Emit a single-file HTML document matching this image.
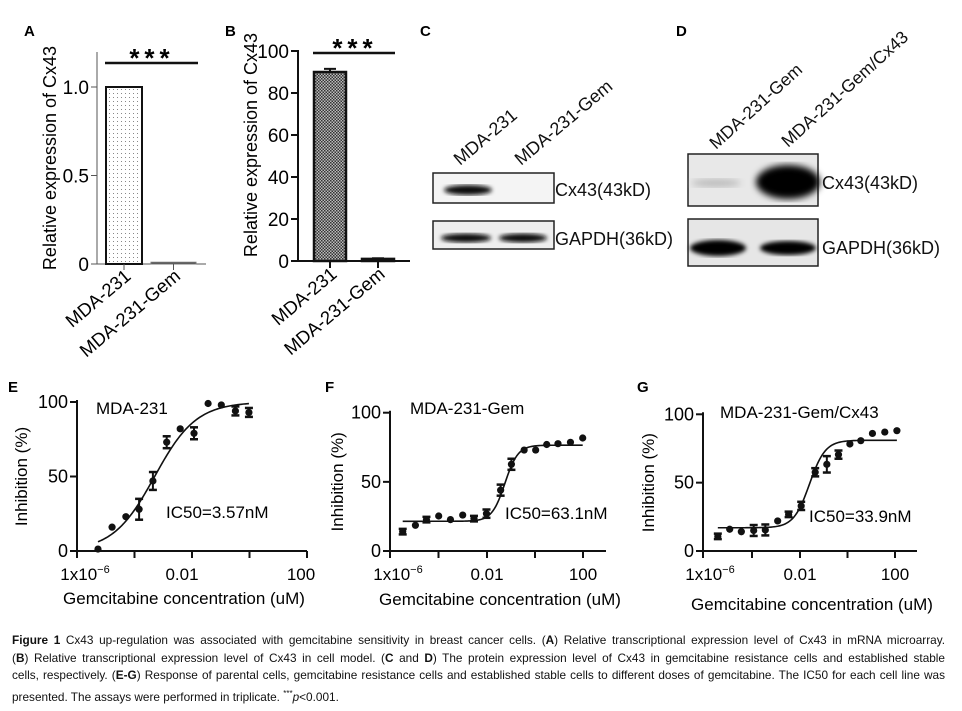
<!DOCTYPE html>
<html><head><meta charset="utf-8">
<style>
html,body{margin:0;padding:0;background:#fff;}
body{width:962px;height:711px;position:relative;overflow:hidden;font-family:"Liberation Sans",sans-serif;}
svg{position:absolute;left:0;top:0;}
.cap{position:absolute;left:12px;width:933px;font-size:11.8px;color:#111;white-space:nowrap;text-align:justify;text-align-last:justify;line-height:15px;}
.cap.last{text-align-last:left;}
</style></head>
<body>
<svg id="fig" width="962" height="711" viewBox="0 0 962 711">
<defs>
<pattern id="dots" width="4" height="4" patternUnits="userSpaceOnUse"><rect width="4" height="4" fill="#fff"/><rect x="1" y="1" width="1" height="1" fill="#888"/></pattern>
<pattern id="check" width="3" height="3" patternUnits="userSpaceOnUse"><rect width="3" height="3" fill="#bbb"/><rect width="1.5" height="1.5" fill="#333"/><rect x="1.5" y="1.5" width="1.5" height="1.5" fill="#333"/></pattern>
<filter id="blur1"><feGaussianBlur stdDeviation="2.2"/></filter>
<filter id="blur2"><feGaussianBlur stdDeviation="3.5"/></filter>
</defs>
<g font-family="Liberation Sans, sans-serif" font-weight="bold" font-size="15">
<text x="24" y="36">A</text>
<text x="225" y="36">B</text>
<text x="420" y="36">C</text>
<text x="676" y="36">D</text>
<text x="8" y="392">E</text>
<text x="325" y="392">F</text>
<text x="637" y="392">G</text>
</g>

<!-- Panel C blot -->
<g font-size="18" fill="#111">
<text transform="translate(460,166) rotate(-40)">MDA-231</text>
<text transform="translate(521,166) rotate(-40)">MDA-231-Gem</text>
<rect x="433" y="173" width="121" height="30" fill="#f4f4f4" stroke="#222" stroke-width="1.5"/>
<ellipse cx="468" cy="190" rx="24" ry="5" fill="#111" filter="url(#blur1)"/>
<rect x="433" y="221" width="121" height="28" fill="#eee" stroke="#222" stroke-width="1.5"/>
<ellipse cx="466" cy="238" rx="25" ry="4.5" fill="#111" filter="url(#blur1)"/>
<ellipse cx="523" cy="238" rx="24" ry="4.5" fill="#111" filter="url(#blur1)"/>
<text x="555" y="196">Cx43(43kD)</text>
<text x="555" y="245">GAPDH(36kD)</text>
</g>

<!-- Panel D blot -->
<g font-size="17.5" fill="#111">
<text transform="translate(716,150) rotate(-42)">MDA-231-Gem</text>
<text transform="translate(788,148) rotate(-42)">MDA-231-Gem/Cx43</text>
<rect x="688" y="154" width="130" height="52" fill="#e8e8e8" stroke="#222" stroke-width="1.5"/>
<ellipse cx="716" cy="183" rx="25" ry="4" fill="#bbb" filter="url(#blur2)"/>
<ellipse cx="788" cy="182" rx="32" ry="17" fill="#000" filter="url(#blur2)"/>
<rect x="688" y="219" width="130" height="47" fill="#e6e6e6" stroke="#222" stroke-width="1.5"/>
<ellipse cx="718" cy="248" rx="28" ry="8" fill="#000" filter="url(#blur1)"/>
<ellipse cx="788" cy="248" rx="28" ry="7" fill="#000" filter="url(#blur1)"/>
<text x="822" y="189" font-size="18">Cx43(43kD)</text>
<text x="822" y="254" font-size="18">GAPDH(36kD)</text>
</g>
</svg>

<div class="cap" style="top:633px"><b>Figure 1</b> Cx43 up-regulation was associated with gemcitabine sensitivity in breast cancer cells. (<b>A</b>) Relative transcriptional expression level of Cx43 in mRNA microarray.</div>
<div class="cap" style="top:651px">(<b>B</b>) Relative transcriptional expression level of Cx43 in cell model. (<b>C</b> and <b>D</b>) The protein expression level of Cx43 in gemcitabine resistance cells and established stable</div>
<div class="cap" style="top:668px">cells, respectively. (<b>E-G</b>) Response of parental cells, gemcitabine resistance cells and established stable cells to different doses of gemcitabine. The IC50 for each cell line was</div>
<div class="cap last" style="top:686px">presented. The assays were performed in triplicate. <sup style="font-size:8px">***</sup><i>p</i>&lt;0.001.</div>

<script>
// Bar chart data
const barCategories = ["MDA-231", "MDA-231-Gem"];
const barA = [1.0, 0.01];
const barB = [90, 1];
const barBErr = [1.5, 0.3];
// Dose-response data (log10 concentration uM, inhibition %, error)
const eLog = [-5.27,-4.78,-4.30,-3.84,-3.36,-2.88,-2.41,-1.93,-1.44,-0.98,-0.49,-0.02];
const eVal = [1.3,16,23,28,47,73,82,79,99,98,94,93];
const eErr = [0,0,0,7,6,4,0,4,0,0,3,3];
const eFit = [0,100,-3.3,0.6];
const fLog = [-5.5,-4.97,-4.51,-4.0,-3.51,-3.0,-2.53,-2.01,-1.42,-0.97,-0.44,0.04,0.5,0.97,1.49,2.0];
const fVal = [14,18.6,22.7,25.3,22.7,26,23.4,27,44,62.7,73,73,77,77.6,78.6,81.7];
const fErr = [2,0,2,0,0,0,2,3,4,4,0,0,0,0,0,0];
const fFit = [21.5,76.5,-1.24,1.6];
const gLog = [-5.46,-4.96,-4.47,-3.95,-3.46,-2.94,-2.48,-1.95,-1.36,-0.87,-0.38,0.10,0.56,1.05,1.57,2.08];
const gVal = [10.7,15.9,14.1,15,15.4,22,26.8,33,57.6,63.4,70.5,78.3,80.7,86,87,88];
const gErr = [2,0,0,4,4,0,2,3,3,6,3,0,0,0,0,0];
const gFit = [17,81,-1.6,1.3];
const yTicksA = [0,0.5,1.0];
const yTickLabelsA = ["0","0.5","1.0"];
const yTicksB = [0,20,40,60,80,100];
const yTicksDR = [0,50,100];

const NS = "http://www.w3.org/2000/svg";
const svg = document.getElementById('fig');
function mk(tag, attrs, parent, txt){
  const e = document.createElementNS(NS, tag);
  for (const k in attrs) e.setAttribute(k, attrs[k]);
  if (txt !== undefined) e.textContent = txt;
  (parent || svg).appendChild(e);
  return e;
}
function line(x1,y1,x2,y2,w,p,c){return mk('line',{x1,y1,x2,y2,stroke:c||'#111','stroke-width':w||1.5},p);}

// ---------- Panel A ----------
(function(){
  const g = mk('g',{});
  
  
  const ys = v => 264 - v*177;
  line(97,52,97,264,1,g,'#555');
  line(97,264,206,264,1,g,'#555');
  yTicksA.forEach((t,i)=>{
    line(91,ys(t),97,ys(t),1,g,'#555');
    const tx = mk('text',{x:89,y:ys(t)+7,'text-anchor':'end','font-size':19},g,yTickLabelsA[i]);
    
    
  });
  const xs = [106,151], ws=[36,45], fills=['url(#dots)','#444'];
  barA.forEach((v,i)=>{
    const r = mk('rect',{x:xs[i],y:ys(v),width:ws[i],height:Math.max(264-ys(v),1.5),fill:fills[i],stroke:i?'#777':'#111','stroke-width':i?1:2},g);
    
    
    line(xs[i]+ws[i]/2,264,xs[i]+ws[i]/2,270,1,g,'#555');
    const t = mk('text',{transform:`translate(${xs[i]+ws[i]/2+8},278) rotate(-40)`,'text-anchor':'end','font-size':18.5},g,barCategories[i]);
    
    
  });
  line(105,63,198,63,2.5,g);
  const s = mk('text',{x:152,y:67,'text-anchor':'middle','font-size':26,'font-weight':'bold','letter-spacing':'5'},g,'***');
  
  
  const tt = mk('text',{transform:'translate(56,158) rotate(-90)','text-anchor':'middle','font-size':18},g,'Relative expression of Cx43');
  
  
})();

// ---------- Panel B ----------
(function(){
  const g = mk('g',{});
  
  
  const ys = v => 261 - v*2.1;
  line(298,50,298,262,2,g);
  line(297,261,410,261,2,g);
  yTicksB.forEach(t=>{
    line(291,ys(t),298,ys(t),2,g);
    const tx = mk('text',{x:289,y:ys(t)+7,'text-anchor':'end','font-size':19},g,String(t));
    
    
  });
  const xs=[314,362], w=32;
  barB.forEach((v,i)=>{
    const cx = xs[i]+w/2;
    line(cx,ys(v),cx,ys(v+barBErr[i]),2,g);
    line(cx-6,ys(v+barBErr[i]),cx+6,ys(v+barBErr[i]),2,g);
    const r = mk('rect',{x:xs[i],y:ys(v),width:w,height:261-ys(v),fill:'url(#check)',stroke:'#111','stroke-width':2.5},g);
    
    
    line(cx,261,cx,268,2,g);
    const t = mk('text',{transform:`translate(${cx+8},276) rotate(-40)`,'text-anchor':'end','font-size':18.5},g,barCategories[i]);
    
    
  });
  line(313,53,395,53,2.5,g);
  const s = mk('text',{x:355,y:57,'text-anchor':'middle','font-size':26,'font-weight':'bold','letter-spacing':'5'},g,'***');
  
  
  const tt = mk('text',{transform:'translate(257,145) rotate(-90)','text-anchor':'middle','font-size':18},g,'Relative expression of Cx43');
  
  
})();

// ---------- Dose response ----------
function doseChart(o){
  const g = mk('g',{});
  
  
  const xs = l => o.x0 + (l+6)*o.dx;
  const ys = v => 551 - v*o.dy;
  line(o.ax0,ys(100)-2,o.ax0,552,2,g);
  line(o.ax0-1,551,o.ax1,551,2,g);
  yTicksDR.forEach(t=>{
    line(o.ax0-7,ys(t),o.ax0,ys(t),2,g);
    const tx = mk('text',{x:o.ax0-9,y:ys(t)+6,'text-anchor':'end','font-size':18},g,String(t));
    
    
  });
  o.ticks.forEach(px=>line(px,551,px,558,2,g));
  const lab = o.labels;
  let t1 = mk('text',{x:lab[0],y:580,'text-anchor':'middle','font-size':17},g,'1x10');
  mk('tspan',{dy:-7,'font-size':11},t1,'−6');
  
  
  let t2 = mk('text',{x:lab[1],y:580,'text-anchor':'middle','font-size':17},g,'0.01');
  
  
  let t3 = mk('text',{x:lab[2],y:580,'text-anchor':'middle','font-size':17},g,'100');
  
  
  const xt = mk('text',{x:o.xtx,y:o.xty,'text-anchor':'middle','font-size':17},g,'Gemcitabine concentration (uM)');
  
  
  const yt = mk('text',{transform:`translate(${o.ytx},${ys(50)}) rotate(-90)`,'text-anchor':'middle','font-size':17},g,'Inhibition (%)');
  
  
  const tl = mk('text',{x:o.tx,y:o.ty,'font-size':17},g,o.title);
  
  
  const ic = mk('text',{x:o.icx,y:o.icy,'font-size':17},g,o.ic);
  
  
  const [bot,top,mid,h] = o.fit;
  const a = o.log[0], b = o.log[o.log.length-1];
  let d = '';
  for (let i=0;i<=120;i++){
    const l = a + (b-a)*i/120;
    const v = bot + (top-bot)/(1+Math.pow(10,(mid-l)*h));
    d += (i?'L':'M') + xs(l).toFixed(2) + ' ' + ys(v).toFixed(2);
  }
  const p = mk('path',{d,fill:'none',stroke:'#111','stroke-width':1.6},g);
  
  
  o.log.forEach((l,i)=>{
    const x = xs(l), y = ys(o.val[i]), e = o.err[i];
    if (e>0){
      line(x,ys(o.val[i]-e),x,ys(o.val[i]+e),2,g);
      line(x-4,ys(o.val[i]-e),x+4,ys(o.val[i]-e),2.5,g);
      line(x-4,ys(o.val[i]+e),x+4,ys(o.val[i]+e),2.5,g);
    }
    const c = mk('circle',{cx:x,cy:y,r:3.6,fill:'#111'},g);
    
    
  });
}
doseChart({name:'dose-response-e',x0:77,dx:28.75,dy:1.49,ax0:77,ax1:307,ticks:[77,134.5,192,249.5,307],labels:[85,182,301],
  xtx:184,xty:604,ytx:27,tx:96,ty:414,title:'MDA-231',icx:166,icy:518,ic:'IC50=3.57nM',log:eLog,val:eVal,err:eErr,fit:eFit});
doseChart({name:'dose-response-f',x0:390.7,dx:24,dy:1.383,ax0:390,ax1:606,ticks:[390,438.5,487,535,583],labels:[398,487,583],
  xtx:500,xty:605,ytx:343,tx:410,ty:414,title:'MDA-231-Gem',icx:505,icy:519,ic:'IC50=63.1nM',log:fLog,val:fVal,err:fErr,fit:fFit});
doseChart({name:'dose-response-g',x0:705,dx:23.75,dy:1.367,ax0:703,ax1:917,ticks:[703,752,800,847.5,895],labels:[710,800,895],
  xtx:812,xty:610,ytx:654,tx:720,ty:418,title:'MDA-231-Gem/Cx43',icx:809,icy:522,ic:'IC50=33.9nM',log:gLog,val:gVal,err:gErr,fit:gFit});
</script>
</body></html>
